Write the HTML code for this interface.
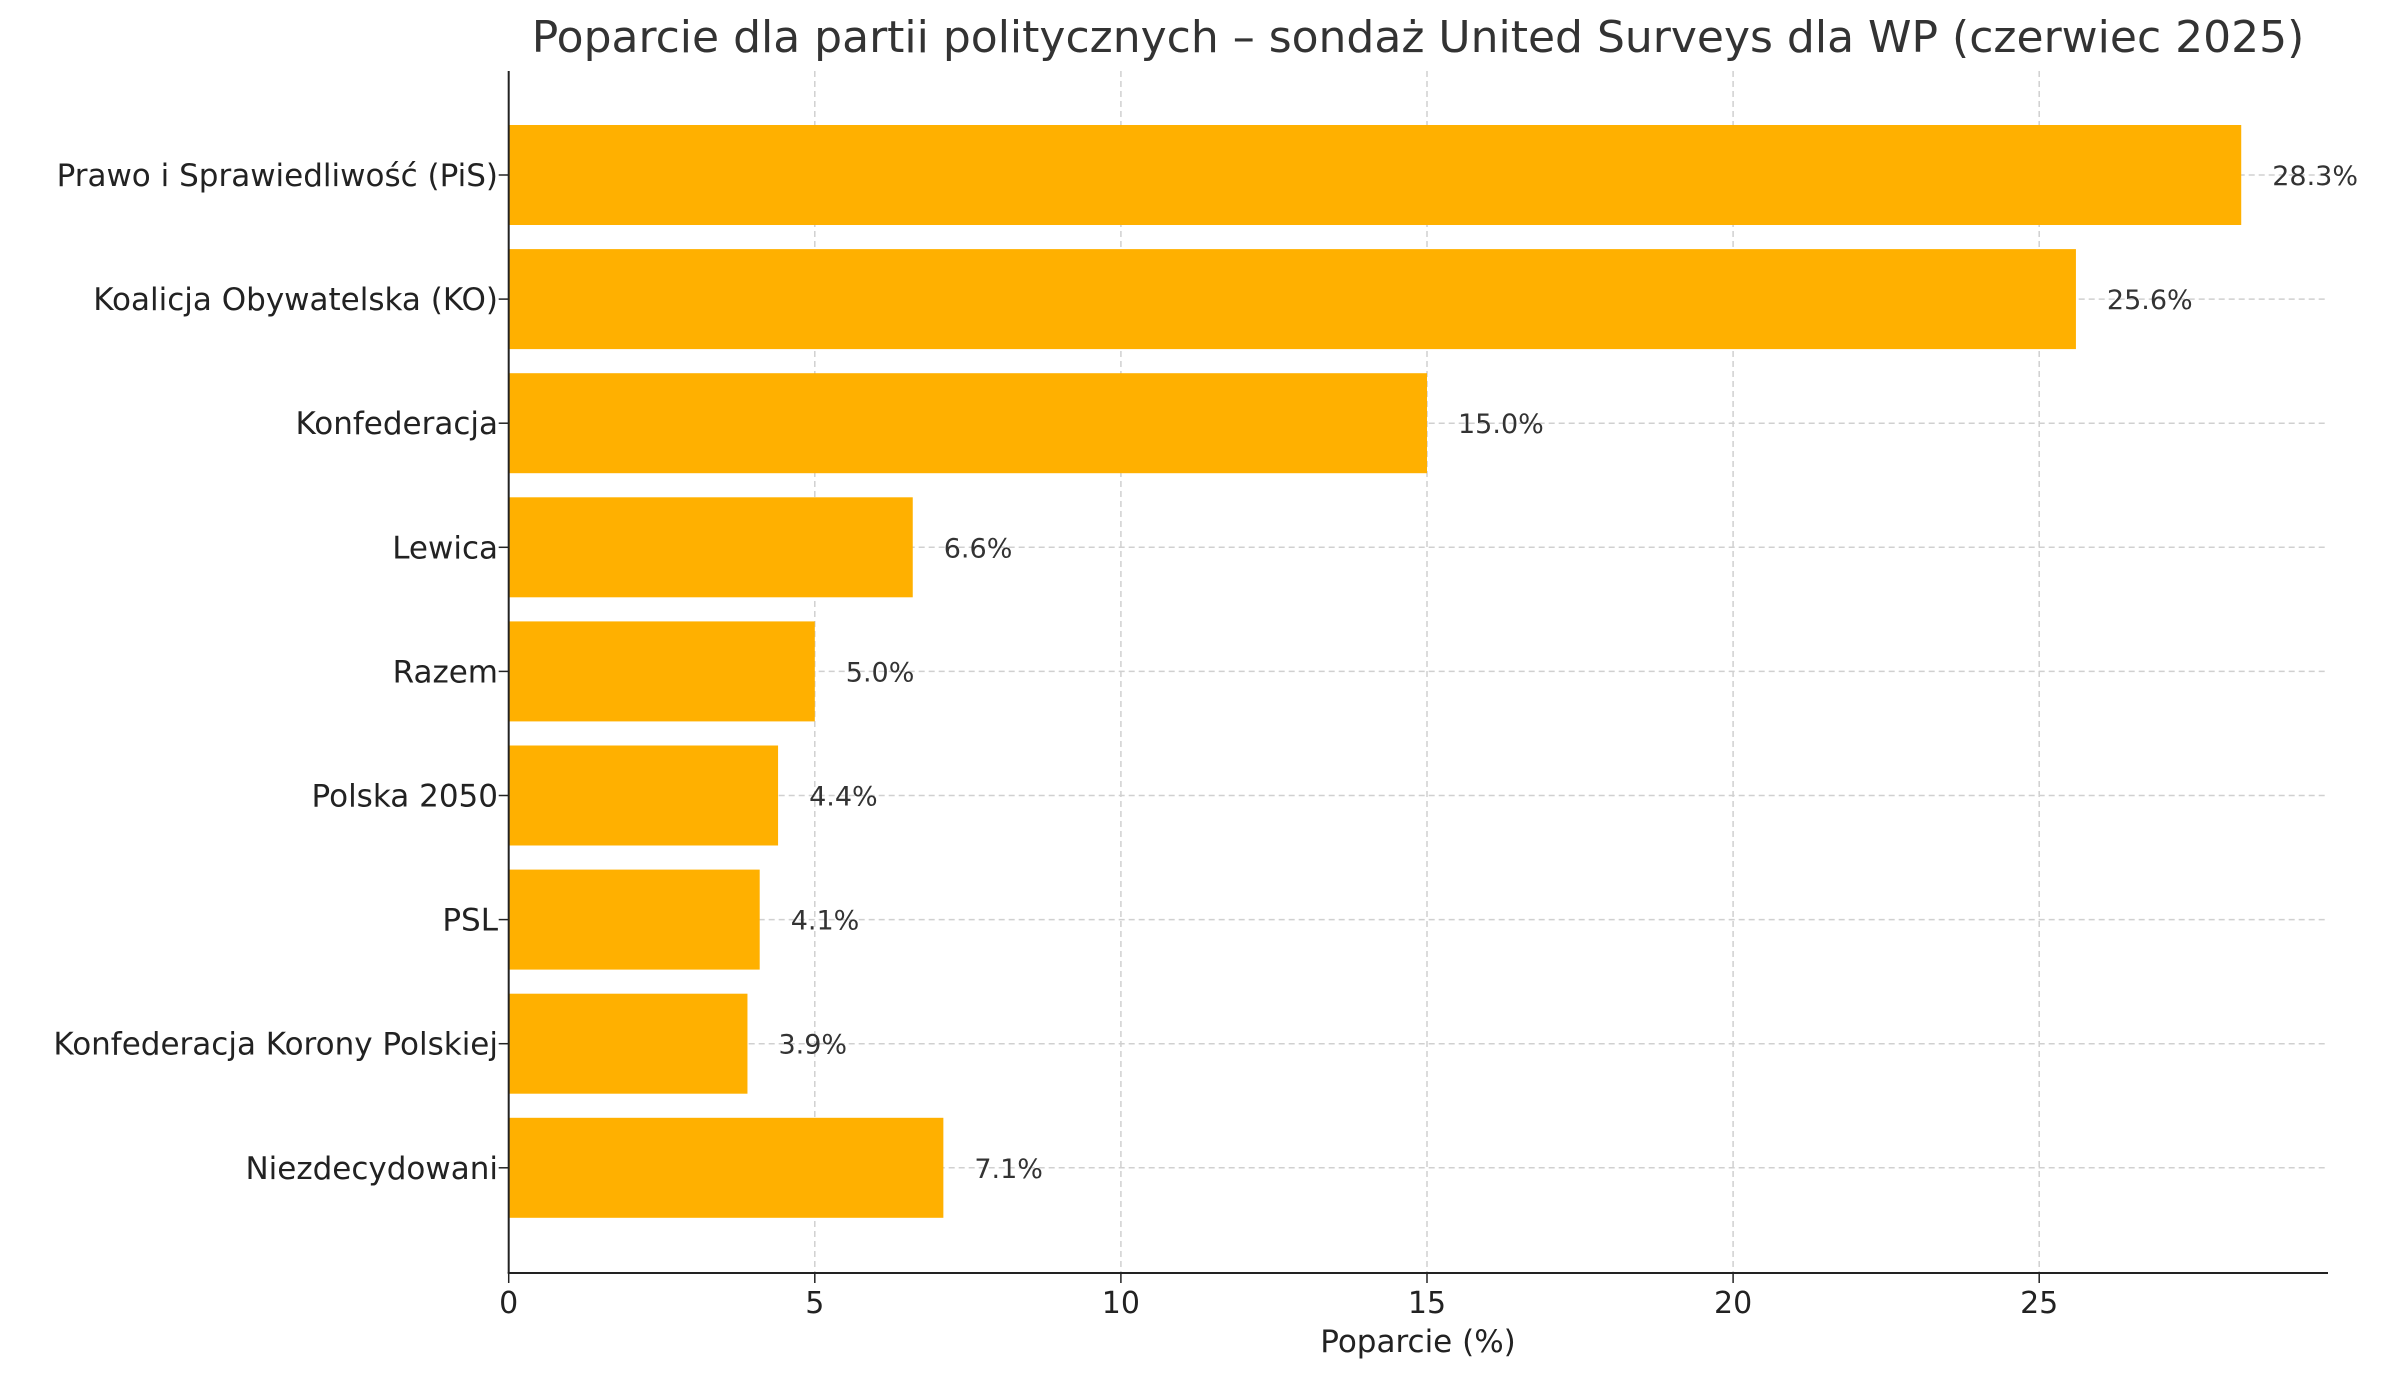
<!DOCTYPE html>
<html><head><meta charset="utf-8"><style>
html,body{margin:0;padding:0;background:#fff}
svg{display:block;font-family:"DejaVu Sans","Liberation Sans",sans-serif}
</style></head><body>
<svg id="chart" width="2381" height="1380" viewBox="0 0 2381 1380" xmlns="http://www.w3.org/2000/svg">
<text x="1418" y="52" text-anchor="middle" font-size="44" fill="#333">Poparcie dla partii politycznych – sondaż United Surveys dla WP (czerwiec 2025)</text>
<g id="grid"></g><g id="bars"></g><g id="labels"></g>
<line x1="508.7" y1="71" x2="508.7" y2="1273" stroke="#222" stroke-width="2"/>
<line x1="507.7" y1="1273" x2="2328" y2="1273" stroke="#222" stroke-width="2"/>
<text x="1418" y="1352" text-anchor="middle" font-size="31" fill="#222">Poparcie (%)</text>
</svg>
<script>
const categories=["Prawo i Sprawiedliwość (PiS)","Koalicja Obywatelska (KO)","Konfederacja","Lewica","Razem","Polska 2050","PSL","Konfederacja Korony Polskiej","Niezdecydowani"];
const values=[28.3,25.6,15.0,6.6,5.0,4.4,4.1,3.9,7.1];
const xTicks=[0,5,10,15,20,25];
const NS="http://www.w3.org/2000/svg";
const x0=508.7,pxPerUnit=61.22,yTop=175,step=124.1,barH=100,xEnd=2328;
const xs=v=>x0+v*pxPerUnit, ys=i=>yTop+i*step;
function mk(tag,attrs,parent){const e=document.createElementNS(NS,tag);for(const k in attrs)e.setAttribute(k,attrs[k]);parent.appendChild(e);return e;}
const grid=document.getElementById('grid'),bars=document.getElementById('bars'),labels=document.getElementById('labels');
xTicks.forEach(t=>{
  const g=mk('line',{x1:xs(t),x2:xs(t),y1:71,y2:1273,stroke:'#d0d0d0','stroke-width':1.5,'stroke-dasharray':'6,4'},grid);
  
  
  const tk=mk('line',{x1:xs(t),x2:xs(t),y1:1273,y2:1283,stroke:'#222','stroke-width':1.5},labels);
  
  
  const tl=mk('text',{x:xs(t),y:1313,'text-anchor':'middle','font-size':30,fill:'#222'},labels);
  tl.textContent=t;
  
  
});
categories.forEach((c,i)=>{
  const y=ys(i);
  const g=mk('line',{x1:x0,x2:xEnd,y1:y,y2:y,stroke:'#d0d0d0','stroke-width':1.5,'stroke-dasharray':'6,4'},grid);
  
  
  const b=mk('rect',{x:x0,y:y-barH/2,width:xs(values[i])-x0,height:barH,fill:'#FFB000'},bars);
  
  
  const v=mk('text',{x:xs(values[i])+31,y:y+10,'font-size':27,fill:'#333'},labels);
  v.textContent=values[i].toFixed(1)+'%';
  
  
  const tk=mk('line',{x1:x0-10,x2:x0,y1:y,y2:y,stroke:'#222','stroke-width':1.5},labels);
  
  
  const l=mk('text',{x:498,y:y+11,'text-anchor':'end','font-size':31,fill:'#222'},labels);
  l.textContent=c;
  
  
});
</script>
</body></html>
